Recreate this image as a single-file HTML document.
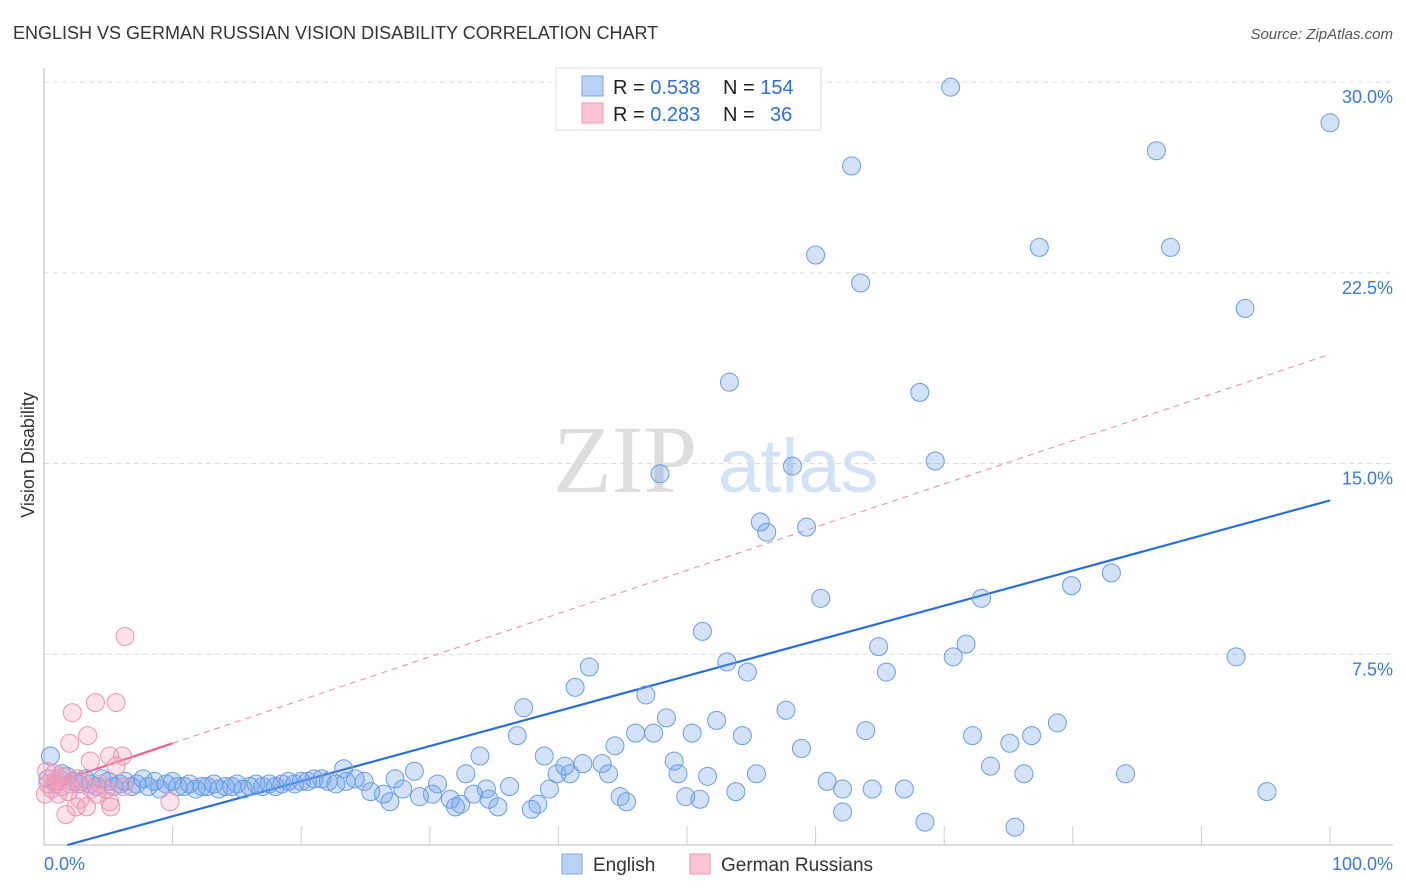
<!DOCTYPE html>
<html><head><meta charset="utf-8"><style>
body{margin:0;background:#fff;font-family:"Liberation Sans",sans-serif;}
svg{display:block}
</style></head><body>
<svg id="chart" width="1406" height="892">
<text x="13" y="39" font-size="18" fill="#333">ENGLISH VS GERMAN RUSSIAN VISION DISABILITY CORRELATION CHART</text>
<text x="1393" y="39" font-size="15" fill="#555" font-style="italic" text-anchor="end">Source: ZipAtlas.com</text>
<text transform="translate(34,455) rotate(-90)" font-size="18" fill="#333" text-anchor="middle">Vision Disability</text>
<g>
<text x="553" y="492" font-size="96" fill="#ddd" font-family="Liberation Serif,serif">ZIP</text>
<text x="718" y="492" font-size="76" fill="#d3e2f5">atlas</text>
</g>
<g id="grid"></g><g id="axes"></g><g id="trend"></g><g id="pts"></g>
<g>
<rect x="556" y="68" width="265" height="62" fill="#fff" stroke="#ddd"/>
<rect x="582" y="76" width="21" height="20" fill="#b8d1f5" stroke="#7ea6e4"/>
<rect x="582" y="103" width="21" height="20" fill="#fcc6d6" stroke="#ef96b1"/>
<text x="613" y="94" font-size="20" fill="#222">R = <tspan fill="#2f6fd1">0.538</tspan><tspan x="723">N = </tspan><tspan fill="#2f6fd1">154</tspan></text>
<text x="613" y="121" font-size="20" fill="#222">R = <tspan fill="#2f6fd1">0.283</tspan><tspan x="723">N = </tspan><tspan fill="#2f6fd1" x="770">36</tspan></text>
</g>
<g>
<rect x="562" y="854" width="20" height="20" fill="#b8d1f5" stroke="#7ea6e4"/>
<text x="593" y="871" font-size="19" fill="#333">English</text>
<rect x="690" y="854" width="20" height="20" fill="#fcc6d6" stroke="#ef96b1"/>
<text x="721" y="871" font-size="19" fill="#333">German Russians</text>
</g>
</svg>
<script>
const yTicks=[7.5,15,22.5,30];
const yTickLabels=["7.5%","15.0%","22.5%","30.0%"];
const xTickValues=[0,10,20,30,40,50,60,70,80,90,100];
const englishX=[70.5,100,62.8,86.5,60.0,77.4,87.6,63.5,93.4,53.3,68.1,47.9,58.2,69.3,55.7,56.2,59.3,83.0,79.9,60.4,72.9,51.2,71.7,64.9,70.7,92.7,42.4,53.1,54.7,65.5,41.3,46.8,37.3,57.7,48.4,52.3,78.8,36.8,46.0,47.4,50.4,54.3,63.9,72.2,76.8,75.1,44.4,58.9,33.9,38.9,49.0,73.6,40.5,41.9,43.4,23.3,28.8,32.8,39.9,40.9,43.9,49.3,51.6,55.4,76.2,84.1,60.9,27.3,24.9,30.6,36.2,34.4,62.1,64.4,66.9,53.8,25.4,26.4,27.9,39.3,95.1,49.9,51.0,44.8,45.3,29.2,30.2,31.6,26.9,33.4,32.4,34.6,35.3,37.9,38.4,32.0,62.1,68.5,75.5,
0.5,1.4,0.3,0.9,1.8,2.3,2.7,3.2,3.6,4.1,4.5,5.0,5.4,5.9,6.3,6.8,7.2,7.7,8.1,8.6,9.0,9.5,10.0,10.4,10.9,11.3,11.8,12.3,12.7,13.2,13.6,14.1,14.6,15.0,15.5,16.0,16.5,17.0,17.5,18.0,18.5,19.0,19.5,20.0,20.5,21.0,21.6,22.1,22.7,23.5,24.2];
const englishY=[29.8,28.4,26.7,27.3,23.2,23.5,23.5,22.1,21.1,18.2,17.8,14.6,14.9,15.1,12.7,12.3,12.5,10.7,10.2,9.7,9.7,8.4,7.9,7.8,7.4,7.4,7.0,7.2,6.8,6.8,6.2,5.9,5.4,5.3,5.0,4.9,4.8,4.3,4.4,4.4,4.4,4.3,4.5,4.3,4.3,4.0,3.9,3.8,3.5,3.5,3.3,3.1,3.1,3.2,3.2,3.0,2.9,2.8,2.8,2.8,2.8,2.8,2.7,2.8,2.8,2.8,2.5,2.6,2.5,2.4,2.3,2.2,2.2,2.2,2.2,2.1,2.1,2.0,2.2,2.2,2.1,1.9,1.8,1.9,1.7,1.9,2.0,1.8,1.7,2.0,1.6,1.8,1.5,1.4,1.6,1.5,1.3,0.9,0.7,
3.5,2.8,2.6,2.4,2.7,2.5,2.4,2.6,2.4,2.3,2.6,2.5,2.3,2.4,2.5,2.3,2.4,2.6,2.3,2.5,2.2,2.4,2.5,2.3,2.3,2.4,2.2,2.3,2.3,2.4,2.2,2.3,2.3,2.4,2.2,2.3,2.4,2.3,2.4,2.3,2.4,2.5,2.4,2.5,2.5,2.6,2.6,2.5,2.4,2.5,2.6];
const germanX=[6.3,2.2,4.0,5.6,2.0,3.4,3.6,5.1,6.1,5.6,0.8,1.2,2.8,3.7,4.4,5.1,9.8,2.5,3.3,1.7,5.2,0.1,0.6,1.1,1.5,2.0,4.8,4.1,6.2,0.3,0.9,1.9,2.6,0.2,1.4,3.0];
const germanY=[8.2,5.2,5.6,5.6,4.0,4.3,3.3,3.5,3.5,3.1,2.8,2.6,1.8,2.2,2.4,1.7,1.7,1.5,1.5,1.2,1.5,2.0,2.2,2.0,2.7,2.4,2.2,2.0,2.3,2.4,2.5,2.1,2.6,2.9,2.3,2.5];
const englishTrend=[-0.25,0.138];
const germanTrend=[2.3,0.17];

const X0=44,X1=1330,Y0=845,PY=25.43;
const sx=v=>X0+(X1-X0)*v/100;
const sy=v=>Y0-v*PY;
const NS="http://www.w3.org/2000/svg";
function mk(tag,parent,attrs){const e=document.createElementNS(NS,tag);for(const k in attrs)e.setAttribute(k,attrs[k]);parent.appendChild(e);return e;}
const grid=document.getElementById('grid'),axes=document.getElementById('axes'),trend=document.getElementById('trend'),pts=document.getElementById('pts');
yTicks.forEach((t,i)=>{
 const l=mk('line',grid,{x1:X0,x2:1393,y1:sy(t),y2:sy(t),stroke:'#ddd','stroke-dasharray':'5,4'});
 
 
 const tx=mk('text',grid,{x:1393,y:sy(t)+21,'font-size':18,fill:'#3b78d8','text-anchor':'end'});
 tx.textContent=yTickLabels[i];
 
 
});
const ya=mk('line',axes,{x1:X0,x2:X0,y1:68,y2:Y0,stroke:'#bbb'});


const xa=mk('line',axes,{x1:X0,x2:1393,y1:Y0,y2:Y0,stroke:'#bbb'});


xTickValues.forEach(v=>{
 if(v===0)return;
 const t=mk('line',axes,{x1:sx(v),x2:sx(v),y1:826,y2:Y0,stroke:'#ccc'});
 
 
});
const xl0=mk('text',axes,{x:44,y:870,'font-size':18,fill:'#3b78d8'});xl0.textContent='0.0%';


const xl1=mk('text',axes,{x:1393,y:870,'font-size':18,fill:'#3b78d8','text-anchor':'end'});xl1.textContent='100.0%';


// trends
const ex0=-englishTrend[0]/englishTrend[1];
const bt=mk('line',trend,{x1:sx(ex0),y1:sy(0),x2:sx(100),y2:sy(englishTrend[0]+100*englishTrend[1]),stroke:'#2a6dd6','stroke-width':2.2});


const pd=mk('line',trend,{x1:sx(10),y1:sy(germanTrend[0]+10*germanTrend[1]),x2:sx(100),y2:sy(germanTrend[0]+100*germanTrend[1]),stroke:'#e88aa8','stroke-width':1,'stroke-dasharray':'6,5'});


const ps=mk('line',trend,{x1:sx(0),y1:sy(germanTrend[0]),x2:sx(10),y2:sy(germanTrend[0]+10*germanTrend[1]),stroke:'#e8608a','stroke-width':2.2});


englishX.forEach((x,i)=>{
 const c=mk('circle',pts,{cx:sx(x),cy:sy(englishY[i]),r:9,fill:'rgba(110,160,235,0.3)',stroke:'#6c9de2','stroke-width':1});
 
 
});
germanX.forEach((x,i)=>{
 const c=mk('circle',pts,{cx:sx(x),cy:sy(germanY[i]),r:9,fill:'rgba(245,160,190,0.3)',stroke:'#ec94b0','stroke-width':1});
 
 
});
</script>
</body></html>
